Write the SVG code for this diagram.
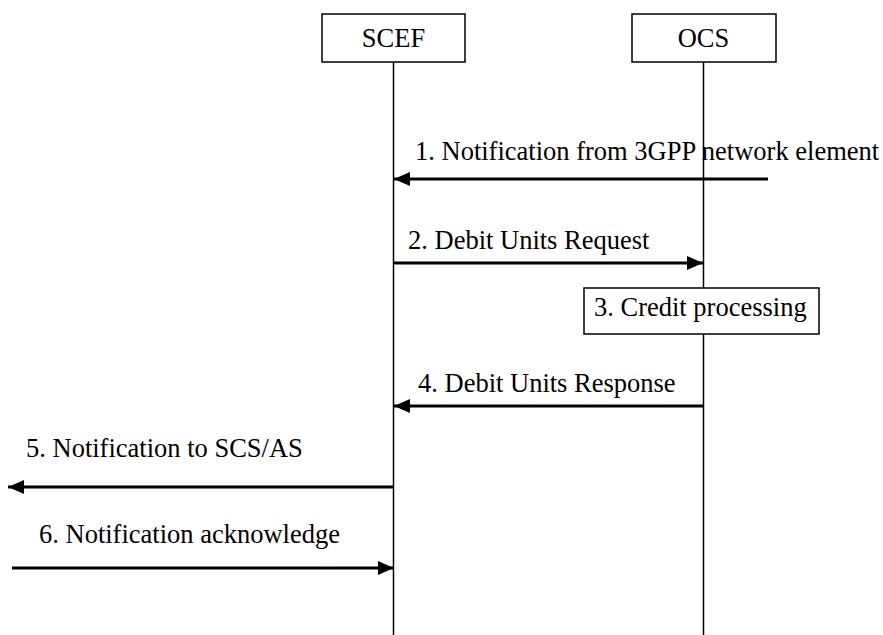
<svg xmlns="http://www.w3.org/2000/svg" width="883" height="635" viewBox="0 0 883 635">
<style>
.t{font-family:"Liberation Serif","Times New Roman",serif;font-size:26.5px;fill:#000}
.box{fill:#fff;stroke:#000;stroke-width:1.5}
.life{stroke:#000;stroke-width:1.5;fill:none}
.msg{stroke:#000;stroke-width:3;fill:none}
</style>
<defs>
<marker id="ah" viewBox="0 0 16 14" refX="16" refY="7" markerWidth="16" markerHeight="14" markerUnits="userSpaceOnUse" orient="auto">
<path d="M0,0 L16,7 L0,14 Z" fill="#000"/>
</marker>
</defs>
<rect width="883" height="635" fill="#fff"/>
<g id="labels">
<text class="t" x="415" y="160">1. Notification from 3GPP network element</text>
<text class="t" x="408" y="249">2. Debit Units Request</text>
<text class="t" x="418" y="392">4. Debit Units Response</text>
<text class="t" x="26" y="457">5. Notification to SCS/AS</text>
<text class="t" x="39" y="543">6. Notification acknowledge</text>
</g>
<g id="lifelines">
<line class="life" x1="393.5" y1="62" x2="393.5" y2="635"/>
<line class="life" x1="703.5" y1="62" x2="703.5" y2="635"/>
</g>
<g id="node-scef">
<rect class="box" x="322" y="14" width="143" height="48"/>
<text class="t" x="393.5" y="47" text-anchor="middle">SCEF</text>
</g>
<g id="node-ocs">
<rect class="box" x="632" y="14" width="144" height="48"/>
<text class="t" x="703.5" y="47" text-anchor="middle">OCS</text>
</g>
<g id="connectors">
<line class="msg" x1="768" y1="179" x2="394" y2="179" marker-end="url(#ah)"/>
<line class="msg" x1="393" y1="263" x2="703" y2="263" marker-end="url(#ah)"/>
<line class="msg" x1="703" y1="406" x2="394" y2="406" marker-end="url(#ah)"/>
<line class="msg" x1="393" y1="487" x2="8" y2="487" marker-end="url(#ah)"/>
<line class="msg" x1="12" y1="568" x2="394" y2="568" marker-end="url(#ah)"/>
</g>
<g id="node-credit">
<rect class="box" x="584" y="288" width="235" height="46"/>
<text class="t" x="594" y="316">3. Credit processing</text>
</g>
</svg>
